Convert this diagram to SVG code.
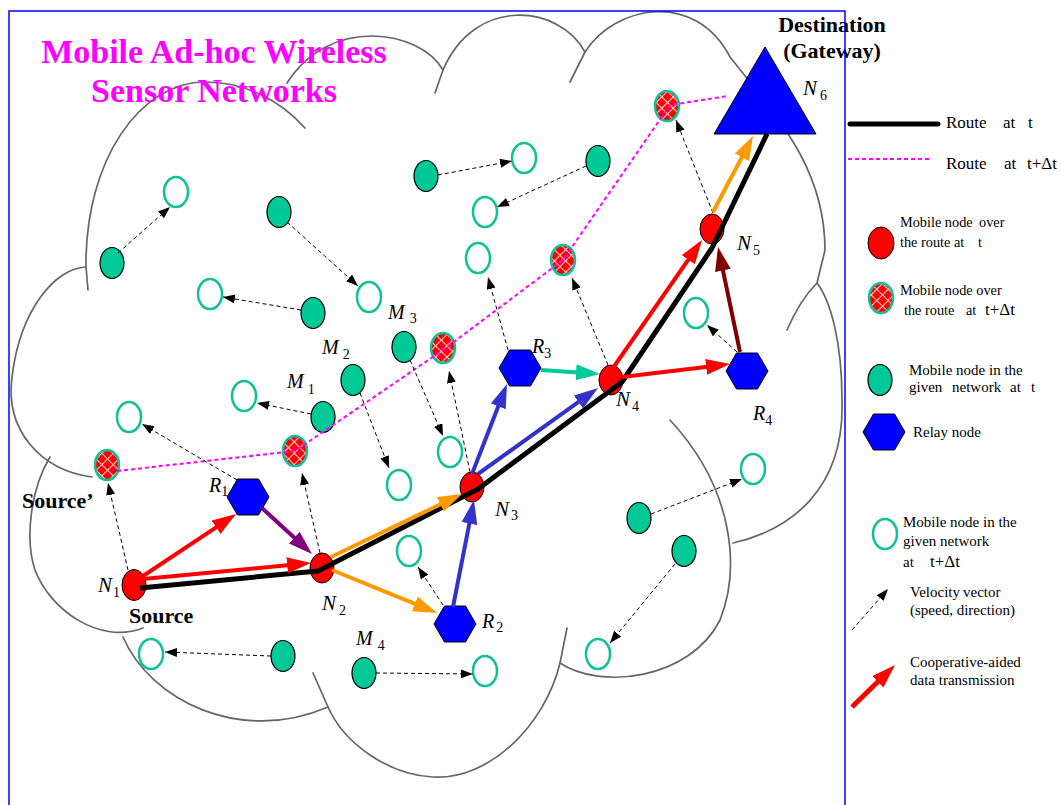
<svg xmlns="http://www.w3.org/2000/svg" width="1061" height="805" viewBox="0 0 1061 805">
<style>
.cloud{fill:none;stroke:#666;stroke-width:1.7;stroke-linecap:round}
.vel{fill:none;stroke:#000;stroke-width:1;stroke-dasharray:4 3;marker-end:url(#vh)}
.mt{fill:#00c896;stroke:#000;stroke-width:1.2}
.mo{fill:#fff;stroke:#10c096;stroke-width:2.5}
.rn{fill:#ff0000;stroke:#000;stroke-width:1}
.xh{fill:url(#hatch);stroke:#10c096;stroke-width:2.5}
.hex{fill:#0000ff;stroke:#000;stroke-width:1}
.ar{fill:none;stroke-width:4;stroke-linecap:butt}
.red{stroke:#ff0000;marker-end:url(#ah-red)}
.org{stroke:#ff9900;marker-end:url(#ah-org)}
.blu{stroke:#3333cc;marker-end:url(#ah-blu)}
.pur{stroke:#800080;marker-end:url(#ah-pur)}
.drd{stroke:#800000;marker-end:url(#ah-drd)}
.tel{stroke:#00cc99;marker-end:url(#ah-tel)}
.title{font-family:'Liberation Serif',serif;font-weight:bold;font-size:34px;fill:#ff00ff;text-anchor:middle}
.bold{font-family:'Liberation Serif',serif;font-weight:bold;font-size:22px;fill:#000}
.lab{font-family:'Liberation Serif',serif;font-style:italic;font-size:21px;fill:#000}
.labm{font-family:'Liberation Serif',serif;font-style:italic;font-size:20px;fill:#000}
.sub{font-style:normal;font-size:14px}
.lg{font-family:'Liberation Serif',serif;font-size:15px;fill:#000}
.lg14{font-family:'Liberation Serif',serif;font-size:14.3px;fill:#000}
.lg17{font-family:'Liberation Serif',serif;font-size:17px;fill:#000}
</style>
<defs>
<pattern id="hatch" patternUnits="userSpaceOnUse" width="8" height="8" patternTransform="rotate(45)">
<rect width="8" height="8" fill="#ff0000"/>
<path d="M0,0.5 H8 M0.5,0 V8" stroke="#ffffff" stroke-width="1.1" stroke-opacity="0.85"/>
</pattern>
<polygon id="hexshape" points="-21,0 -10.5,-18 10.5,-18 21,0 10.5,18 -10.5,18"/>
<marker id="vh" markerUnits="userSpaceOnUse" markerWidth="13" markerHeight="10" refX="12" refY="4.5" orient="auto"><path d="M0,0 L12,4.5 L0,9z" fill="#000"/></marker>
<marker id="ah-red" markerUnits="userSpaceOnUse" markerWidth="25" markerHeight="17" refX="10" refY="8" orient="auto"><path d="M0,0 L24,8 L0,16z" fill="#ff0000"/></marker>
<marker id="ah-org" markerUnits="userSpaceOnUse" markerWidth="25" markerHeight="17" refX="10" refY="8" orient="auto"><path d="M0,0 L24,8 L0,16z" fill="#ff9900"/></marker>
<marker id="ah-blu" markerUnits="userSpaceOnUse" markerWidth="25" markerHeight="17" refX="10" refY="8" orient="auto"><path d="M0,0 L24,8 L0,16z" fill="#3333cc"/></marker>
<marker id="ah-pur" markerUnits="userSpaceOnUse" markerWidth="25" markerHeight="17" refX="10" refY="8" orient="auto"><path d="M0,0 L24,8 L0,16z" fill="#800080"/></marker>
<marker id="ah-drd" markerUnits="userSpaceOnUse" markerWidth="25" markerHeight="17" refX="10" refY="8" orient="auto"><path d="M0,0 L24,8 L0,16z" fill="#800000"/></marker>
<marker id="ah-tel" markerUnits="userSpaceOnUse" markerWidth="25" markerHeight="17" refX="10" refY="8" orient="auto"><path d="M0,0 L24,8 L0,16z" fill="#00cc99"/></marker>
</defs>
<rect x="0" y="0" width="1061" height="805" fill="#fff"/>

<g id="cloud">
<path class="cloud" d="M305,128 C280,100 245,82 205,82 C140,82 85,160 86,267 L88,290"/>
<path class="cloud" d="M86,267 C55,268 20,310 12,377 C5,430 40,470 92,477"/>
<path class="cloud" d="M50,457 C30,490 25,540 35,570 C50,610 100,645 143,628"/>
<path class="cloud" d="M123,637 C150,700 240,745 328,707 L313,673"/>
<path class="cloud" d="M328,707 C345,745 390,775 433,777 C490,780 545,725 560,663 L567,628"/>
<path class="cloud" d="M560,663 C600,690 690,680 720,620 C740,570 735,490 670,420"/>
<path class="cloud" d="M733,543 C790,530 845,490 842,400 C842,340 830,300 817,283"/>
<path class="cloud" d="M817,283 Q800,300 787,330"/>
<path class="cloud" d="M570,82 L585,52 C615,5 695,-10 730,57 C780,120 825,170 825,250 L817,283"/>
<path class="cloud" d="M585,52 C560,5 475,-5 443,70 L435,93"/>
<path class="cloud" d="M443,70 C420,30 330,15 287,83"/>
</g>

<g id="title">
<text class="title" x="214" y="63">Mobile Ad-hoc Wireless</text>
<text class="title" x="214" y="102">Sensor Networks</text>
</g>

<g id="mobile-t">
<ellipse class="mt" cx="112" cy="263" rx="12" ry="15.5"/>
<ellipse class="mt" cx="279" cy="212" rx="12" ry="15.5"/>
<ellipse class="mt" cx="313" cy="313" rx="12" ry="15.5"/>
<ellipse class="mt" cx="426" cy="176" rx="12" ry="15.5"/>
<ellipse class="mt" cx="598" cy="161" rx="12" ry="15.5"/>
<ellipse class="mt" cx="639" cy="518" rx="12" ry="15.5"/>
<ellipse class="mt" cx="684" cy="551" rx="12" ry="15.5"/>
<ellipse class="mt" cx="283" cy="656" rx="12" ry="15.5"/>
</g>
<g id="M1"><ellipse class="mt" cx="323" cy="417" rx="12" ry="15.5"/></g>
<g id="M2"><ellipse class="mt" cx="353" cy="380" rx="12" ry="15.5"/></g>
<g id="M3"><ellipse class="mt" cx="404" cy="347" rx="12" ry="15.5"/></g>
<g id="M4"><ellipse class="mt" cx="364" cy="673" rx="12" ry="15.5"/></g>

<g id="mobile-tdt">
<ellipse class="mo" cx="176" cy="192" rx="12" ry="15"/>
<ellipse class="mo" cx="369" cy="297" rx="12" ry="15"/>
<ellipse class="mo" cx="210" cy="294" rx="12" ry="15"/>
<ellipse class="mo" cx="524" cy="158" rx="12" ry="15"/>
<ellipse class="mo" cx="485" cy="212" rx="12" ry="15"/>
<ellipse class="mo" cx="478" cy="258" rx="12" ry="15"/>
<ellipse class="mo" cx="244" cy="396" rx="12" ry="15"/>
<ellipse class="mo" cx="129" cy="417" rx="12" ry="15"/>
<ellipse class="mo" cx="450" cy="452" rx="12" ry="15"/>
<ellipse class="mo" cx="399" cy="485" rx="12" ry="15"/>
<ellipse class="mo" cx="409" cy="551" rx="12" ry="15"/>
<ellipse class="mo" cx="151" cy="654" rx="12" ry="15"/>
<ellipse class="mo" cx="485" cy="671" rx="12" ry="15"/>
<ellipse class="mo" cx="598" cy="654" rx="12" ry="15"/>
<ellipse class="mo" cx="753" cy="469" rx="12" ry="15"/>
<ellipse class="mo" cx="696" cy="313" rx="12" ry="15"/>
</g>

<g id="route-tdt-nodes">
<ellipse class="xh" cx="107" cy="465" rx="12" ry="15"/>
<ellipse class="xh" cx="295" cy="451" rx="12" ry="15"/>
<ellipse class="xh" cx="443" cy="348" rx="12" ry="15"/>
<ellipse class="xh" cx="563" cy="260" rx="12" ry="15"/>
<ellipse class="xh" cx="667" cy="106" rx="12" ry="15"/>
</g>

<g id="N1"><ellipse class="rn" cx="134" cy="585" rx="12" ry="15.5"/></g>
<g id="N2"><ellipse class="rn" cx="322" cy="568" rx="12" ry="15"/></g>
<g id="N3"><ellipse class="rn" cx="472" cy="487" rx="12" ry="15"/></g>
<g id="N4"><ellipse class="rn" cx="611" cy="380" rx="12" ry="15"/></g>
<g id="N5"><ellipse class="rn" cx="712" cy="229" rx="12" ry="15"/></g>
<g id="N6"><polygon points="765,47 714,134 816,134" fill="#0000ff" stroke="#000" stroke-width="1"/></g>

<g id="R1"><use href="#hexshape" class="hex" x="248" y="497"/></g>
<g id="R2"><use href="#hexshape" class="hex" x="455" y="624"/></g>
<g id="R3"><use href="#hexshape" class="hex" x="520" y="368"/></g>
<g id="R4"><use href="#hexshape" class="hex" x="747" y="371"/></g>

<g id="connectors">
<polyline points="140,588 318,571 478,489 622,382 712,248 767,134" fill="none" stroke="#000" stroke-width="5" stroke-linejoin="round"/>
<polyline points="117,471 295,451 443,350 563,260 670,105 728,96" fill="none" stroke="#ff00ff" stroke-width="2" stroke-dasharray="4 3"/>
<line class="vel" x1="118" y1="253" x2="170" y2="207"/>
<line class="vel" x1="287" y1="222" x2="358" y2="286"/>
<line class="vel" x1="301" y1="310" x2="223" y2="297"/>
<line class="vel" x1="438" y1="175" x2="512" y2="161"/>
<line class="vel" x1="586" y1="166" x2="497" y2="207"/>
<line class="vel" x1="410" y1="360" x2="443" y2="436"/>
<line class="vel" x1="360" y1="393" x2="389" y2="468"/>
<line class="vel" x1="311" y1="414" x2="257" y2="403"/>
<line class="vel" x1="237" y1="480" x2="142" y2="424"/>
<line class="vel" x1="128" y1="570" x2="108" y2="483"/>
<line class="vel" x1="320" y1="553" x2="302" y2="473"/>
<line class="vel" x1="470" y1="472" x2="449" y2="371"/>
<line class="vel" x1="508" y1="350" x2="488" y2="277"/>
<line class="vel" x1="608" y1="365" x2="572" y2="278"/>
<line class="vel" x1="713" y1="213" x2="676" y2="120"/>
<line class="vel" x1="737" y1="352" x2="707" y2="325"/>
<line class="vel" x1="651" y1="514" x2="742" y2="479"/>
<line class="vel" x1="675" y1="564" x2="610" y2="643"/>
<line class="vel" x1="443" y1="605" x2="418" y2="567"/>
<line class="vel" x1="271" y1="656" x2="165" y2="652"/>
<line class="vel" x1="376" y1="673" x2="473" y2="674"/>
<line class="ar red" x1="143" y1="576" x2="224.4" y2="521.8"/>
<line class="ar red" x1="143" y1="579" x2="297.1" y2="564.3"/>
<line class="ar org" x1="331" y1="557" x2="449.4" y2="500"/>
<line class="ar org" x1="332" y1="570" x2="424.1" y2="607.7"/>
<line class="ar pur" x1="262" y1="508" x2="301.7" y2="544.5"/>
<line class="ar blu" x1="453" y1="607" x2="471.3" y2="513.7"/>
<line class="ar blu" x1="472" y1="474" x2="501.9" y2="397"/>
<line class="ar blu" x1="478" y1="474" x2="586.6" y2="396.2"/>
<line class="ar tel" x1="541" y1="370" x2="586" y2="373"/>
<line class="ar red" x1="622" y1="377" x2="716.1" y2="365.7"/>
<line class="ar red" x1="613" y1="368" x2="694" y2="251.5"/>
<line class="ar drd" x1="740" y1="352" x2="720.9" y2="260.7"/>
<line class="ar org" x1="713" y1="212" x2="746.5" y2="148.4"/>
</g>

<g id="labels">
<text class="bold" x="832" y="32" text-anchor="middle">Destination</text>
<text class="bold" x="832" y="58" text-anchor="middle">(Gateway)</text>
<text class="bold" x="22" y="508">Source’</text>
<text class="bold" x="129" y="623">Source</text>
<text class="lab" x="98" y="592">N<tspan class="sub" dx="1" dy="5">1</tspan></text>
<text class="lab" x="322" y="610">N<tspan class="sub" dx="3" dy="5">2</tspan></text>
<text class="lab" x="495" y="516">N<tspan class="sub" dx="2" dy="4">3</tspan></text>
<text class="lab" x="616" y="406">N<tspan class="sub" dx="2" dy="5">4</tspan></text>
<text class="lab" x="737" y="250">N<tspan class="sub" dx="2" dy="5">5</tspan></text>
<text class="lab" x="803" y="95">N<tspan class="sub" dx="3" dy="5">6</tspan></text>
<text class="labm" x="209" y="492">R<tspan class="sub" dx="0" dy="4">1</tspan></text>
<text class="labm" x="482" y="628">R<tspan class="sub" dx="2" dy="4">2</tspan></text>
<text class="labm" x="532" y="353">R<tspan class="sub" dx="0" dy="5">3</tspan></text>
<text class="labm" x="753" y="420">R<tspan class="sub" dx="0" dy="5">4</tspan></text>
<text class="labm" x="287" y="388">M<tspan class="sub" dx="4" dy="6">1</tspan></text>
<text class="labm" x="322" y="354">M<tspan class="sub" dx="4" dy="5">2</tspan></text>
<text class="labm" x="388" y="319">M<tspan class="sub" dx="5" dy="4">3</tspan></text>
<text class="labm" x="356" y="645">M<tspan class="sub" dx="5" dy="5">4</tspan></text>
</g>

<g id="legend-route-t">
<line x1="850" y1="124" x2="938" y2="124" stroke="#000" stroke-width="5" stroke-linecap="round"/>
<text class="lg17" y="128"><tspan x="946">Route</tspan><tspan x="1003">at</tspan><tspan x="1028">t</tspan></text>
</g>
<g id="legend-route-tdt">
<line x1="848" y1="159" x2="930" y2="159" stroke="#ff00ff" stroke-width="2" stroke-dasharray="4 3"/>
<text class="lg17" y="169"><tspan x="946">Route</tspan><tspan x="1004">at</tspan><tspan x="1027">t+Δt</tspan></text>
</g>
<g id="legend-red">
<ellipse class="rn" cx="881" cy="243" rx="13" ry="16"/>
<text class="lg14" y="227"><tspan x="900">Mobile node</tspan><tspan x="979">over</tspan></text>
<text class="lg14" y="247"><tspan x="900">the route at</tspan><tspan x="978">t</tspan></text>
</g>
<g id="legend-hatch">
<ellipse class="xh" cx="881" cy="298" rx="12" ry="15"/>
<text class="lg14" x="900" y="295">Mobile node over</text>
<text class="lg14" y="315"><tspan x="904">the route</tspan><tspan x="966">at</tspan><tspan x="985" class="lg17">t+Δt</tspan></text>
</g>
<g id="legend-teal">
<ellipse class="mt" cx="880" cy="380" rx="12" ry="15.5"/>
<text class="lg" x="909" y="375">Mobile node in the</text>
<text class="lg" y="392"><tspan x="909">given</tspan><tspan x="952">network</tspan><tspan x="1010">at</tspan><tspan x="1031">t</tspan></text>
</g>
<g id="legend-relay">
<use href="#hexshape" class="hex" x="884" y="432"/>
<text class="lg" x="913" y="437">Relay node</text>
</g>
<g id="legend-outline">
<ellipse class="mo" cx="885" cy="534" rx="12" ry="15"/>
<text class="lg" x="903" y="527">Mobile node in the</text>
<text class="lg" x="903" y="546">given network</text>
<text class="lg" y="567"><tspan x="903">at</tspan><tspan x="930" class="lg17">t+Δt</tspan></text>
</g>
<g id="legend-velocity">
<line class="vel" x1="852" y1="630" x2="888" y2="589"/>
<text class="lg" y="597"><tspan x="910">Velocity</tspan><tspan x="963">vector</tspan></text>
<text class="lg" x="910" y="615">(speed, direction)</text>
</g>
<g id="legend-coop">
<line x1="852" y1="707" x2="885" y2="674.8" stroke="#ff0000" stroke-width="5" marker-end="url(#ah-red)"/>
<text class="lg" x="910" y="667">Cooperative-aided</text>
<text class="lg" x="910" y="685">data transmission</text>
</g>

<g id="frame">
<rect x="9" y="11" width="836" height="820" fill="none" stroke="#0000ff" stroke-width="1.5"/>
</g>
</svg>
